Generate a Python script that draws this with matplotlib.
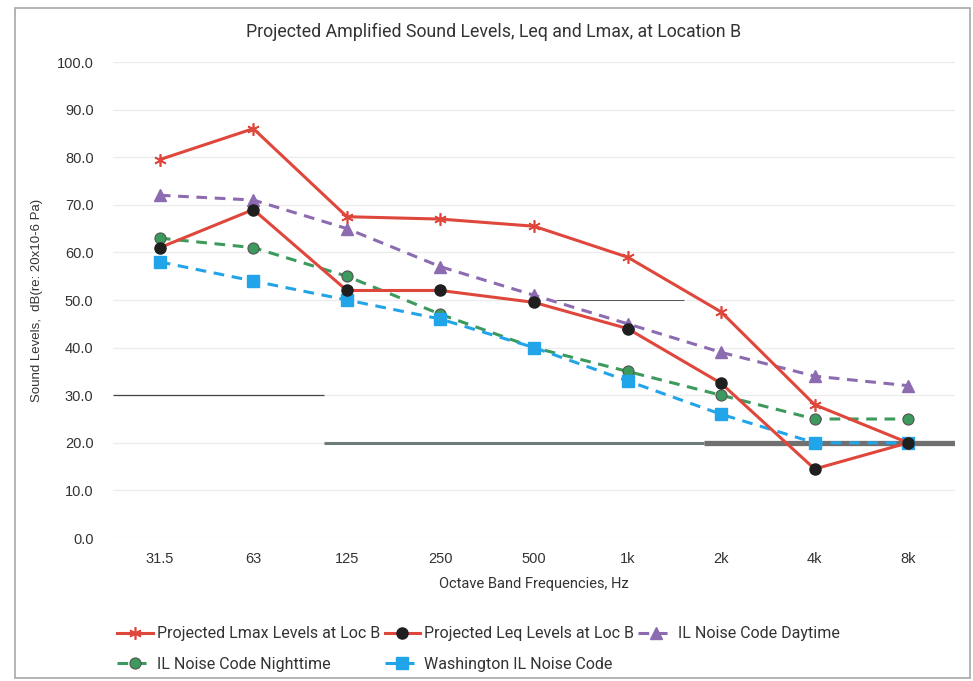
import numpy as np
import matplotlib
matplotlib.use("Agg")
import matplotlib.pyplot as plt
from matplotlib.patches import Rectangle

plt.rcParams['font.family'] = ['Liberation Sans', 'DejaVu Sans']

bands = ['31.5', '63', '125', '250', '500', '1k', '2k', '4k', '8k']
lmax_loc_b = [79.5, 86, 67.5, 67, 65.5, 59, 47.5, 28, 20]
leq_loc_b = [61, 69, 52, 52, 49.5, 44, 32.5, 14.5, 20]
il_day = [72, 71, 65, 57, 51, 45, 39, 34, 32]
il_night = [63, 61, 55, 47, 40, 35, 30, 25, 25]
washington = [58, 54, 50, 46, 40, 33, 26, 20, 20]

# darker stretches of gridline: (level, start band, end band, width)
grid_marks_y = [30, 20, 20, 50]
grid_marks_x0 = [-0.5, 1.75, 5.82, 4.23]
grid_marks_x1 = [1.75, 5.82, 8.5, 5.6]
grid_marks_w = [0.9, 2.2, 3.8, 0.7]
grid_marks_c = ['#444444', '#6e7b7b', '#707070', '#555555']

W, H = 973, 681
fig = plt.figure(figsize=(W / 100, H / 100), dpi=100)
ax = fig.add_axes([113 / W, (H - 538) / H, (955 - 113) / W, (538 - 62) / H])

x = np.arange(len(bands))
red = '#e0473c'
purple = '#8c6bb1'
green = '#3c9a5c'
blue = '#22a5e8'

l1, = ax.plot(x, lmax_loc_b, color=red, lw=2.2, marker=(6, 2, 0), ms=9,
              mec=red, mew=1.2, label='Projected Lmax Levels at Loc B', zorder=5)
l2, = ax.plot(x, leq_loc_b, color=red, lw=2.2, marker='o', ms=8,
              mfc='#1f1f1f', mec='#1f1f1f', label='Projected Leq Levels at Loc B', zorder=5)
l3, = ax.plot(x, il_day, color=purple, lw=2.2, ls=(0, (3.5, 2.5)), marker='^', ms=9,
              mfc=purple, mec=purple, label='IL Noise Code Daytime', zorder=4)
l4, = ax.plot(x, il_night, color=green, lw=2.2, ls=(0, (3.5, 2.5)), marker='o', ms=8,
              mfc=green, mec='#555555', mew=0.8, label='IL Noise Code Nighttime', zorder=4)
l5, = ax.plot(x, washington, color=blue, lw=2.2, ls=(0, (3.5, 2.5)), marker='s', ms=8,
              mfc=blue, mec=blue, label='Washington IL Noise Code', zorder=4)

for yv, x0, x1, w, c in zip(grid_marks_y, grid_marks_x0, grid_marks_x1,
                            grid_marks_w, grid_marks_c):
    ax.hlines(yv, x0, x1, colors=c, lw=w, zorder=2)

ax.set_xlim(-0.5, 8.5)
ax.set_ylim(0, 100)
ax.set_yticks(np.arange(0, 101, 10))
ax.set_yticklabels([f'{v:.1f}' for v in np.arange(0, 101, 10)])
ax.set_xticks(x)
ax.set_xticklabels(bands)
ax.tick_params(length=0, labelsize=10.5, colors='#333333', pad=10)
ax.tick_params(axis='y', pad=14)
ax.grid(axis='y', color='#ececec', lw=0.9)
ax.set_axisbelow(True)
for s in ax.spines.values():
    s.set_visible(False)

ax.set_ylabel('Sound Levels,  dB(re: 20x10-6 Pa)', fontsize=9.5, color='#333333', labelpad=10)
ax.set_xlabel('Octave Band Frequencies, Hz', fontsize=10.5, color='#333333',
              labelpad=8, family=['Roboto', 'DejaVu Sans'])

fig.text(494 / W, 1 - 32 / H, 'Projected Amplified Sound Levels, Leq and Lmax, at Location B',
         ha='center', va='center', fontsize=12.8, color='#333333',
         family=['Roboto', 'DejaVu Sans'])

handles = [l1, l4, l2, l5, l3]
leg = fig.legend(handles, [h.get_label() for h in handles], ncol=3,
                 loc='upper left', bbox_to_anchor=(103 / W, 1 - 612 / H),
                 frameon=False, handlelength=2.2, handletextpad=0.25,
                 columnspacing=0.3, labelspacing=0.95,
                 prop={'family': ['Roboto', 'DejaVu Sans'], 'size': 11.5})
for t in leg.get_texts():
    t.set_color('#333333')

fig.patches.append(Rectangle((15 / W, 3 / H), 955 / W, 670 / H, transform=fig.transFigure,
                             fill=False, ec='#a8a8a8', lw=1.2))

fig.savefig('out.png', dpi=100, facecolor='white')
